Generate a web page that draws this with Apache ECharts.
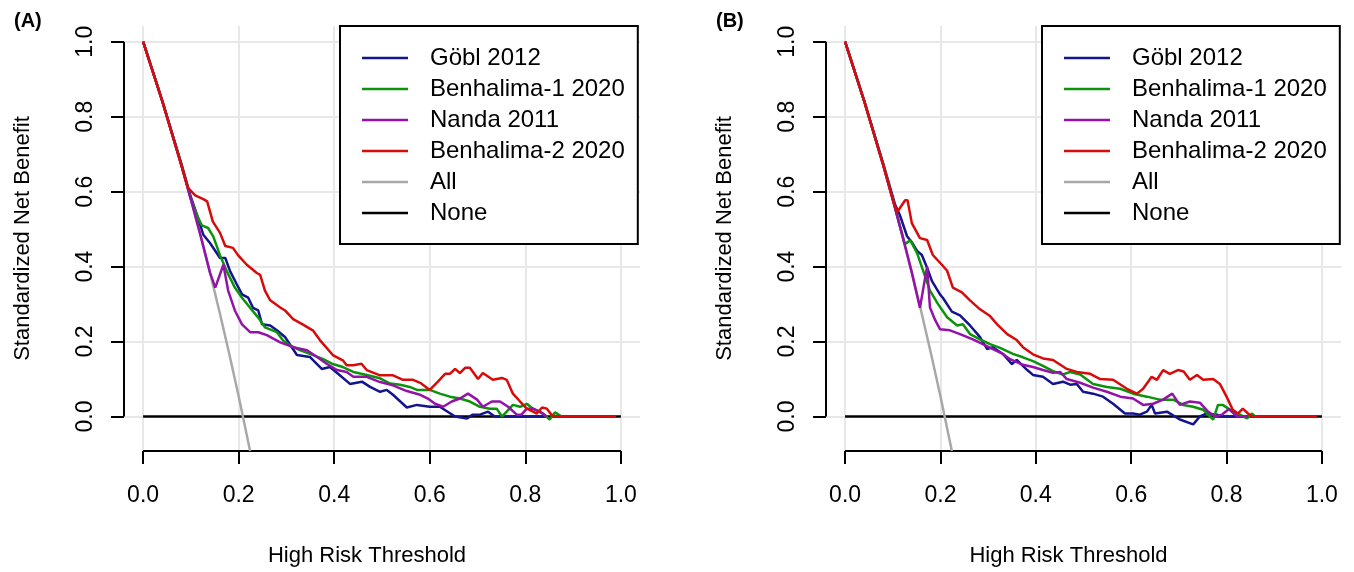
<!DOCTYPE html>
<html>
<head>
<meta charset="utf-8">
<script src="https://cdn.jsdelivr.net/npm/echarts@6/dist/echarts.min.js"></script>
<style>
  html, body { margin: 0; background: #fff; }
  #chart { width: 1354px; height: 572px; }
</style>
</head>
<body>
<div id="chart"></div>
<script>
// axis ticks shared by both panels
const tickValues = [0, 0.2, 0.4, 0.6, 0.8, 1.0];
const names = ['Göbl 2012', 'Benhalima-1 2020', 'Nanda 2011', 'Benhalima-2 2020', 'All', 'None'];
const colors = ['#14148f', '#0c930c', '#9412a8', '#d80b0b', '#a8a8a8', '#000000'];

// panel (A) — [threshold, standardized net benefit]
const goblA = [[0,1],[0.04,0.842],[0.08,0.675],[0.1,0.585],[0.115,0.53],[0.126,0.485],[0.14,0.463],[0.161,0.423],[0.172,0.423],[0.182,0.388],[0.196,0.353],[0.207,0.326],[0.22,0.317],[0.23,0.29],[0.241,0.283],[0.249,0.246],[0.266,0.243],[0.28,0.23],[0.297,0.212],[0.307,0.193],[0.322,0.164],[0.349,0.159],[0.364,0.14],[0.374,0.127],[0.391,0.132],[0.408,0.114],[0.433,0.087],[0.458,0.093],[0.475,0.079],[0.496,0.066],[0.51,0.071],[0.523,0.058],[0.552,0.024],[0.573,0.031],[0.6,0.026],[0.621,0.026],[0.653,0],[0.678,-0.005],[0.69,0.005],[0.705,0.005],[0.722,0.013],[0.736,0],[0.845,0]];
const benh1A = [[0,1],[0.04,0.842],[0.08,0.672],[0.1,0.58],[0.115,0.53],[0.123,0.51],[0.136,0.503],[0.147,0.48],[0.161,0.43],[0.175,0.388],[0.192,0.344],[0.207,0.317],[0.224,0.29],[0.241,0.264],[0.255,0.238],[0.28,0.225],[0.293,0.203],[0.307,0.19],[0.328,0.177],[0.356,0.164],[0.377,0.153],[0.397,0.14],[0.418,0.132],[0.44,0.119],[0.468,0.111],[0.496,0.102],[0.517,0.088],[0.538,0.085],[0.558,0.079],[0.573,0.071],[0.6,0.071],[0.621,0.061],[0.642,0.053],[0.663,0.048],[0.684,0.04],[0.705,0.026],[0.726,0.021],[0.74,0.021],[0.751,0],[0.761,0.013],[0.774,0.031],[0.789,0.026],[0.803,0.034],[0.816,0.021],[0.837,0.008],[0.851,-0.008],[0.862,0.011],[0.876,0]];
const nandaA = [[0,1],[0.04,0.842],[0.08,0.671],[0.1,0.579],[0.12,0.484],[0.14,0.384],[0.151,0.344],[0.168,0.405],[0.178,0.336],[0.192,0.283],[0.207,0.246],[0.224,0.225],[0.241,0.225],[0.259,0.217],[0.287,0.198],[0.314,0.185],[0.343,0.177],[0.364,0.159],[0.385,0.14],[0.406,0.124],[0.426,0.119],[0.44,0.106],[0.468,0.106],[0.496,0.092],[0.523,0.083],[0.552,0.068],[0.58,0.058],[0.596,0.048],[0.611,0.034],[0.628,0.026],[0.646,0.04],[0.663,0.048],[0.68,0.061],[0.699,0.045],[0.711,0.026],[0.73,0.04],[0.747,0.04],[0.764,0.026],[0.782,0.005],[0.792,0.005],[0.803,0.021],[0.816,0.021],[0.83,0.013],[0.845,0]];
const benh2A = [[0,1],[0.04,0.842],[0.08,0.671],[0.094,0.61],[0.109,0.59],[0.126,0.58],[0.134,0.574],[0.146,0.52],[0.161,0.49],[0.172,0.455],[0.188,0.45],[0.199,0.43],[0.217,0.405],[0.238,0.383],[0.245,0.378],[0.255,0.336],[0.266,0.31],[0.287,0.291],[0.297,0.283],[0.314,0.26],[0.332,0.247],[0.356,0.229],[0.37,0.204],[0.397,0.164],[0.418,0.15],[0.426,0.137],[0.44,0.137],[0.457,0.141],[0.468,0.124],[0.496,0.11],[0.523,0.11],[0.544,0.098],[0.565,0.098],[0.58,0.09],[0.6,0.071],[0.617,0.093],[0.632,0.114],[0.642,0.114],[0.653,0.127],[0.663,0.116],[0.674,0.13],[0.684,0.13],[0.701,0.1],[0.711,0.116],[0.732,0.098],[0.751,0.103],[0.761,0.098],[0.774,0.061],[0.789,0.04],[0.803,0.021],[0.816,0.013],[0.824,0.008],[0.835,0.024],[0.845,0.021],[0.856,0.003],[0.865,0],[0.99,0]];
const allA = [[0,1],[0.02,0.923],[0.04,0.842],[0.06,0.758],[0.08,0.671],[0.1,0.579],[0.12,0.484],[0.14,0.384],[0.16,0.279],[0.18,0.169],[0.2,0.054],[0.22,-0.068],[0.224,-0.092]];
const noneA = [[0,0],[1,0]];

// panel (B)
const goblB = [[0,1],[0.04,0.842],[0.08,0.675],[0.105,0.565],[0.115,0.537],[0.13,0.481],[0.14,0.465],[0.151,0.442],[0.161,0.431],[0.172,0.397],[0.182,0.362],[0.199,0.326],[0.205,0.317],[0.224,0.28],[0.241,0.27],[0.262,0.243],[0.283,0.212],[0.298,0.18],[0.31,0.185],[0.331,0.167],[0.35,0.14],[0.36,0.151],[0.382,0.124],[0.394,0.111],[0.415,0.106],[0.436,0.087],[0.457,0.093],[0.472,0.085],[0.486,0.087],[0.499,0.066],[0.52,0.061],[0.541,0.053],[0.562,0.034],[0.587,0.008],[0.604,0.008],[0.618,0.005],[0.633,0.013],[0.643,0.031],[0.65,0.008],[0.675,0.013],[0.702,-0.008],[0.73,-0.021],[0.744,0],[0.759,0.008],[0.78,0.005],[0.79,0],[0.843,0]];
const benh1B = [[0,1],[0.04,0.842],[0.08,0.672],[0.1,0.58],[0.125,0.46],[0.137,0.47],[0.151,0.436],[0.164,0.388],[0.178,0.336],[0.195,0.3],[0.214,0.265],[0.235,0.243],[0.247,0.246],[0.262,0.22],[0.283,0.206],[0.304,0.193],[0.325,0.183],[0.352,0.167],[0.373,0.158],[0.394,0.148],[0.415,0.135],[0.436,0.121],[0.457,0.112],[0.472,0.119],[0.493,0.112],[0.52,0.087],[0.549,0.079],[0.577,0.074],[0.604,0.061],[0.633,0.053],[0.66,0.045],[0.688,0.045],[0.709,0.031],[0.73,0.026],[0.751,0.018],[0.772,-0.008],[0.782,0.031],[0.792,0.031],[0.813,0.013],[0.828,0.005],[0.843,-0.005],[0.853,0.008],[0.86,0]];
const nandaB = [[0,1],[0.04,0.842],[0.08,0.671],[0.1,0.579],[0.12,0.484],[0.14,0.384],[0.157,0.29],[0.172,0.4],[0.178,0.291],[0.189,0.257],[0.199,0.233],[0.22,0.23],[0.241,0.22],[0.268,0.206],[0.289,0.193],[0.31,0.18],[0.331,0.167],[0.346,0.153],[0.373,0.138],[0.394,0.132],[0.415,0.124],[0.436,0.117],[0.451,0.119],[0.465,0.1],[0.493,0.09],[0.52,0.077],[0.549,0.066],[0.577,0.053],[0.604,0.048],[0.625,0.031],[0.646,0.034],[0.667,0.045],[0.686,0.061],[0.702,0.031],[0.723,0.04],[0.744,0.037],[0.761,0.013],[0.776,0],[0.79,0.005],[0.805,0.02],[0.822,0],[0.845,0]];
const benh2B = [[0,1],[0.04,0.842],[0.08,0.671],[0.1,0.579],[0.109,0.545],[0.126,0.577],[0.131,0.577],[0.14,0.516],[0.157,0.476],[0.172,0.471],[0.184,0.431],[0.203,0.405],[0.214,0.389],[0.226,0.344],[0.245,0.331],[0.262,0.31],[0.283,0.286],[0.304,0.268],[0.321,0.243],[0.34,0.22],[0.36,0.204],[0.373,0.185],[0.394,0.166],[0.415,0.155],[0.436,0.151],[0.465,0.127],[0.486,0.119],[0.514,0.114],[0.535,0.1],[0.562,0.098],[0.591,0.074],[0.612,0.061],[0.625,0.074],[0.643,0.106],[0.654,0.098],[0.667,0.124],[0.681,0.114],[0.698,0.124],[0.71,0.12],[0.723,0.098],[0.738,0.111],[0.751,0.098],[0.772,0.1],[0.786,0.087],[0.8,0.053],[0.813,0.018],[0.824,0.008],[0.834,0.021],[0.845,0.008],[0.853,0],[0.99,0]];
const allB = [[0,1],[0.02,0.923],[0.04,0.842],[0.06,0.758],[0.08,0.671],[0.1,0.579],[0.12,0.484],[0.14,0.384],[0.16,0.279],[0.18,0.169],[0.2,0.054],[0.22,-0.068],[0.224,-0.092]];
const noneB = [[0,0],[1,0]];

const xMin = -0.04, xMax = 1.04, yMin = -0.092, yMax = 1.042;
const font = 'Liberation Sans, Arial, sans-serif';

const chart = echarts.init(document.getElementById('chart'), null, { renderer: 'canvas' });

function xAxis(i) {
  return {
    type: 'value', gridIndex: i, min: xMin, max: xMax,
    axisLine: { show: false, onZero: false },
    axisTick: { show: true, customValues: tickValues, length: 13, lineStyle: { color: '#000', width: 2 } },
    axisLabel: { customValues: tickValues, formatter: v => v.toFixed(1), margin: 33, fontSize: 23, color: '#000', fontFamily: font },
    splitLine: { show: true, lineStyle: { color: '#e8e8e8', width: 2 } },
    name: 'High Risk Threshold', nameLocation: 'middle', nameGap: 94,
    nameTextStyle: { fontSize: 22, color: '#000', fontFamily: font, padding: [0, 30, 0, 0] }
  };
}
function yAxis(i) {
  return {
    type: 'value', gridIndex: i, min: yMin, max: yMax,
    axisLine: { show: false, onZero: false },
    axisTick: { show: true, customValues: tickValues, length: 13, lineStyle: { color: '#000', width: 2 } },
    axisLabel: { customValues: tickValues, formatter: v => v.toFixed(1), rotate: 90, margin: 27, fontSize: 23, color: '#000', fontFamily: font },
    splitLine: { show: true, lineStyle: { color: '#e8e8e8', width: 2 } },
    name: 'Standardized Net Benefit', nameLocation: 'middle', nameGap: 90,
    nameTextStyle: { fontSize: 22, color: '#000', fontFamily: font }
  };
}
function line(name, data, i) {
  return {
    name: name, type: 'line', xAxisIndex: i, yAxisIndex: i, data: data,
    symbol: 'none', silent: true, clip: true,
    lineStyle: { width: 2.5, color: colors[names.indexOf(name)] },
    itemStyle: { color: colors[names.indexOf(name)] }
  };
}
// R style axis lines that only span 0..1, drawn on the panel's own scales
function axisLine(id, data, i) {
  return {
    id: id, type: 'line', xAxisIndex: i, yAxisIndex: i, data: data,
    symbol: 'none', silent: true, clip: false,
    lineStyle: { width: 2, color: '#000' }
  };
}
function legend(left) {
  return {
    data: names, left: left, top: 26, orient: 'vertical', selectedMode: false,
    icon: 'rect', itemWidth: 46, itemHeight: 2.5, itemGap: 7,
    padding: [20, 13, 19, 22],
    borderColor: '#000', borderWidth: 2, borderRadius: 0, backgroundColor: '#fff',
    textStyle: { fontSize: 24, lineHeight: 22, color: '#000', fontFamily: font, padding: [0, 0, 0, 17] }
  };
}

chart.setOption({
  animation: false,
  backgroundColor: '#fff',
  title: [
    { text: '(A)', left: 14, top: 11, padding: 0, textStyle: { fontSize: 20, fontWeight: 'bold', fontFamily: font, color: '#000' } },
    { text: '(B)', left: 716, top: 11, padding: 0, textStyle: { fontSize: 20, fontWeight: 'bold', fontFamily: font, color: '#000' } }
  ],
  grid: [
    { left: 124, top: 26, width: 516, height: 429 },
    { left: 826, top: 26, width: 515, height: 429 }
  ],
  xAxis: [xAxis(0), xAxis(1)],
  yAxis: [yAxis(0), yAxis(1)],
  legend: [legend(340), legend(1042)],
  series: [
    axisLine('xlineA', [[0, yMin], [1, yMin]], 0),
    axisLine('ylineA', [[xMin, 0], [xMin, 1]], 0),
    line('None', noneA, 0),
    line('All', allA, 0),
    line('Göbl 2012', goblA, 0),
    line('Benhalima-1 2020', benh1A, 0),
    line('Nanda 2011', nandaA, 0),
    line('Benhalima-2 2020', benh2A, 0),
    axisLine('xlineB', [[0, yMin], [1, yMin]], 1),
    axisLine('ylineB', [[xMin, 0], [xMin, 1]], 1),
    line('None', noneB, 1),
    line('All', allB, 1),
    line('Göbl 2012', goblB, 1),
    line('Benhalima-1 2020', benh1B, 1),
    line('Nanda 2011', nandaB, 1),
    line('Benhalima-2 2020', benh2B, 1)
  ]
});
</script>
</body>
</html>
